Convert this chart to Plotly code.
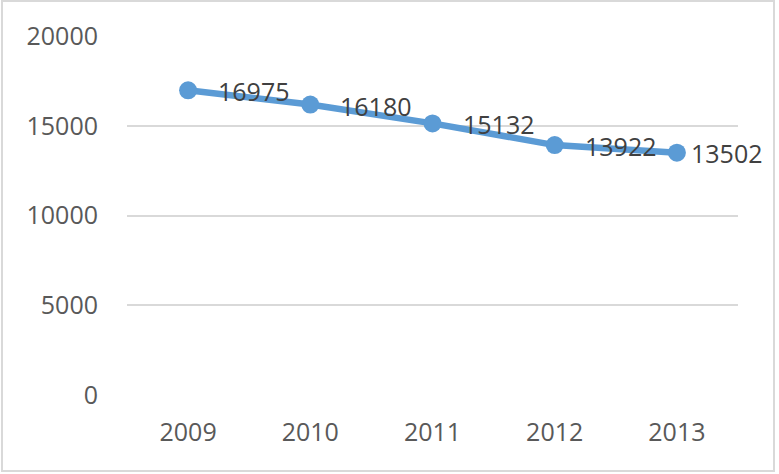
import plotly.graph_objects as go

years = ["2009", "2010", "2011", "2012", "2013"]
values = [16975, 16180, 15132, 13922, 13502]
y_ticks = [0, 5000, 10000, 15000, 20000]
y_tick_text = ["0", "5000", "10000", "15000", "20000"]

W, H = 779, 474
L, R, T, B = 127, 41, 36, 79
pw, ph = W - L - R, H - T - B

fig = go.Figure(
    go.Scatter(
        x=years,
        y=values,
        mode="lines+markers",
        line={"color": "#5B9BD5", "width": 6.5},
        marker={"color": "#5B9BD5", "size": 18},
        cliponaxis=False,
        hoverinfo="x+y",
    )
)

# data labels, pushed right of the marker like the original.
# numeric-looking category names are read as indices by annotations, so use the index
for i, v in enumerate(values):
    last = i == len(values) - 1
    fig.add_annotation(
        x=i,
        y=v,
        text=str(v),
        showarrow=False,
        xanchor="left",
        yanchor="middle",
        xshift=12 if last else 28,
        yshift=0 if last else -1,
        font={"size": 25, "color": "#404040"},
    )


def px_x(p):
    return (p - L) / pw


def px_y(p):
    return (H - B - p) / ph


fig.update_layout(
    width=W,
    height=H,
    margin={"l": L, "r": R, "t": T, "b": B},
    paper_bgcolor="white",
    plot_bgcolor="white",
    showlegend=False,
    font={"family": "Open Sans, sans-serif", "size": 25, "color": "#595959"},
    xaxis={
        "type": "category",
        "range": [-0.5, len(years) - 0.5],
        "showgrid": False,
        "showline": False,
        "zeroline": False,
        "ticks": "",
        "ticklabelstandoff": 20,
        "tickfont": {"size": 25, "color": "#595959"},
        "fixedrange": True,
    },
    yaxis={
        "range": [0, 20000],
        "tickvals": y_ticks,
        "ticktext": y_tick_text,
        "showgrid": True,
        "gridcolor": "#d9d9d9",
        "gridwidth": 2,
        "zeroline": False,
        "showline": False,
        "ticks": "",
        "ticklabelstandoff": 28,
        "tickfont": {"size": 25, "color": "#595959"},
        "fixedrange": True,
    },
    shapes=[
        {
            "type": "rect",
            "xref": "paper",
            "yref": "paper",
            "x0": px_x(2),
            "x1": px_x(774),
            "y0": px_y(471),
            "y1": px_y(1),
            "line": {"color": "#d9d9d9", "width": 2},
            "layer": "below",
        }
    ],
)

fig.write_html(
    "out.html",
    config={"displayModeBar": False},
    post_script="document.body.style.margin='0';document.body.style.overflow='hidden';",
)
